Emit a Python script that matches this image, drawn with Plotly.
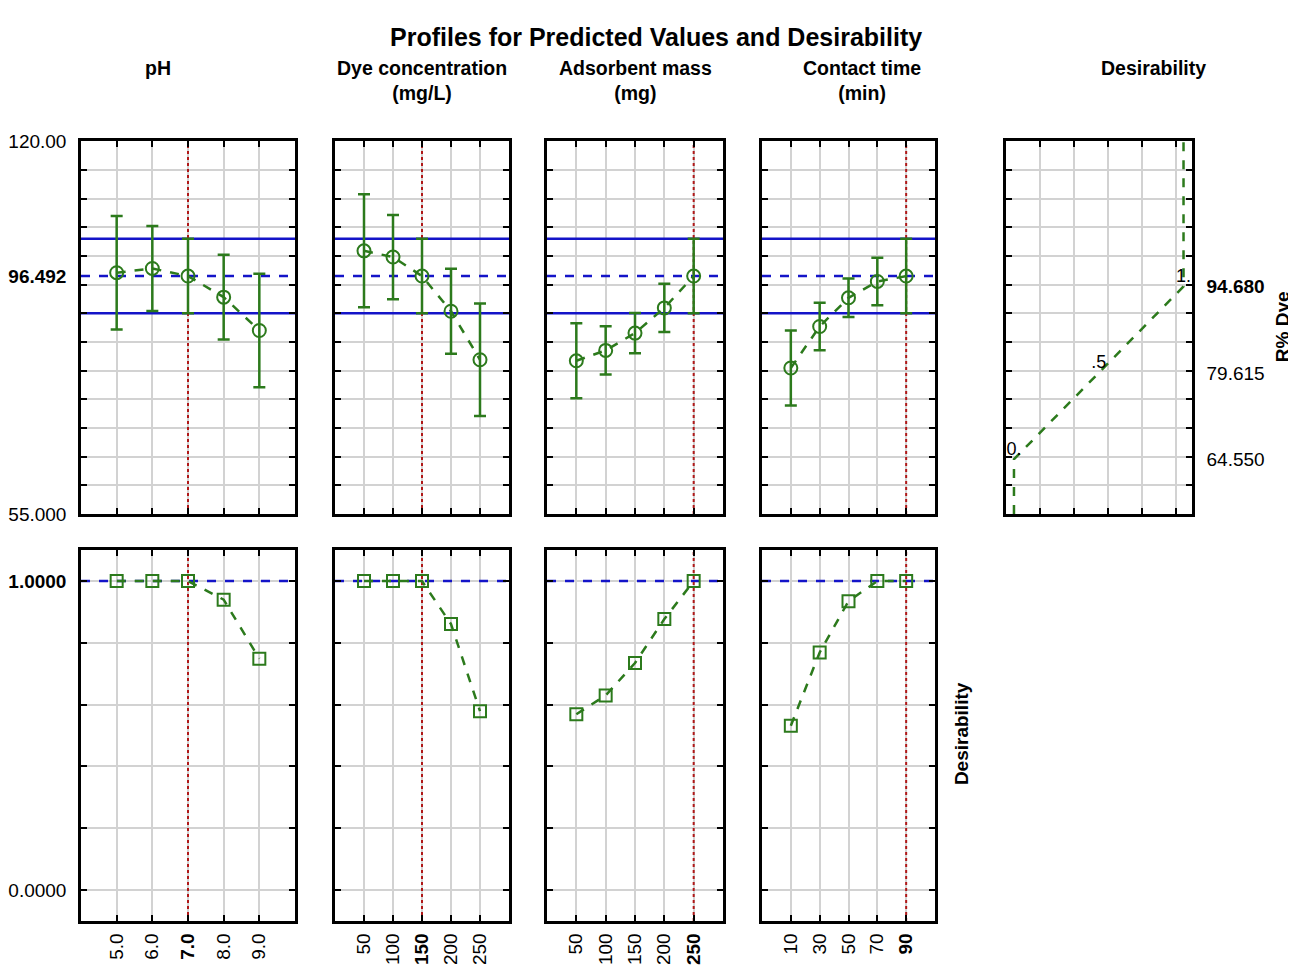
import plotly.graph_objects as go

# ---------------- data ----------------
ph_levels = [5, 6, 7, 8, 9]
ph_labels = ["5.0", "6.0", "<b>7.0</b>", "8.0", "9.0"]
ph_pred = [97.08, 97.82, 96.492, 92.82, 87.00]
ph_err = [9.9, 7.4, 6.5, 7.4, 9.9]
ph_desir = [1.0, 1.0, 1.0, 0.940, 0.749]
ph_current = 7

dye_levels = [50, 100, 150, 200, 250]
dye_labels = ["50", "100", "<b>150</b>", "200", "250"]
dye_pred = [100.89, 99.81, 96.492, 90.36, 81.90]
dye_err = [9.85, 7.35, 6.5, 7.4, 9.8]
dye_desir = [1.0, 1.0, 1.0, 0.861, 0.579]
dye_current = 150

mass_levels = [50, 100, 150, 200, 250]
mass_labels = ["50", "100", "150", "200", "<b>250</b>"]
mass_pred = [81.72, 83.53, 86.55, 90.94, 96.492]
mass_err = [6.55, 4.2, 3.5, 4.2, 6.5]
mass_desir = [0.569, 0.630, 0.735, 0.877, 1.0]
mass_current = 250

time_levels = [10, 30, 50, 70, 90]
time_labels = ["10", "30", "50", "70", "<b>90</b>"]
time_pred = [80.46, 87.70, 92.70, 95.55, 96.492]
time_err = [6.55, 4.15, 3.35, 4.15, 6.5]
time_desir = [0.532, 0.769, 0.935, 1.0, 1.0]
time_current = 90

current_pred = 96.492
ci_upper = 102.99
ci_lower = 89.99
current_desir = 1.0

# desirability function for R% Dye
desir_resp = [55.0, 64.55, 79.615, 94.68, 120.0]
desir_value = [0.0, 0.0, 0.5, 1.0, 1.0]
desir_label_resp = [64.55, 79.615, 94.68]
desir_label_value = [0.0, 0.5, 1.0]
desir_label_text = ["0.", ".5", "1."]
desir_axis_vals = [64.55, 79.615, 94.68]
desir_axis_text = ["64.550", "79.615", "<b>94.680</b>"]

titles = ["pH", "Dye concentration<br>(mg/L)", "Adsorbent mass<br>(mg)", "Contact time<br>(min)", "Desirability"]

# ---------------- style ----------------
OFF = 8                      # page body margin shifts the figure
W, H = 1296, 968
GREEN = "#2c7a1c"
BLUE = "#1414c8"
RED = "#b01818"
GRID = "#d2d2d2"
FONT = "Liberation Sans, Arial, sans-serif"
TOP_RANGE = [55, 120]
BOT_RANGE = [-0.1, 1.1]
DES_RANGE = [-0.047, 1.05]


def px(x):
    return (x - OFF) / W


def py(y):
    return 1 - (y - OFF) / H


panels = [
    dict(levels=ph_levels, labels=ph_labels, pred=ph_pred, err=ph_err, desir=ph_desir,
         current=ph_current, rng=[4, 10], xdom=[81, 295], head_x=158),
    dict(levels=dye_levels, labels=dye_labels, pred=dye_pred, err=dye_err, desir=dye_desir,
         current=dye_current, rng=[0, 300], xdom=[335, 509], head_x=422),
    dict(levels=mass_levels, labels=mass_labels, pred=mass_pred, err=mass_err, desir=mass_desir,
         current=mass_current, rng=[0, 300], xdom=[547, 723], head_x=635),
    dict(levels=time_levels, labels=time_labels, pred=time_pred, err=time_err, desir=time_desir,
         current=time_current, rng=[-10, 110], xdom=[762, 935], head_x=862),
]
top_ydom = [py(515), py(134)]
bot_ydom = [py(931), py(552)]
des_xdom = [1006, 1192]

fig = go.Figure()
layout = dict(
    width=W, height=H, margin=dict(l=0, r=0, t=0, b=0),
    paper_bgcolor="white", plot_bgcolor="white", showlegend=False,
    font=dict(family=FONT, size=19, color="black"),
)
shapes = []
annotations = []


def frame_axis(**kw):
    d = dict(showline=True, linewidth=2.5, linecolor="black", mirror="ticks",
             zeroline=False, ticks="inside", ticklen=6, tickwidth=2, tickcolor="black",
             showgrid=True, gridcolor=GRID, gridwidth=2, fixedrange=True)
    d.update(kw)
    return d


def key(prefix, n):
    return prefix if n == 1 else f"{prefix}{n}"


for i, p in enumerate(panels):
    nt = i + 1
    nb = i + 6
    # top: predicted values
    fig.add_trace(go.Scatter(
        x=p["levels"], y=p["pred"], xaxis=key("x", nt), yaxis=key("y", nt),
        mode="lines+markers",
        line=dict(color=GREEN, width=2.5, dash="dash"),
        marker=dict(symbol="circle-open", size=13, color=GREEN, line=dict(width=2, color=GREEN)),
        error_y=dict(type="data", array=p["err"], color=GREEN, thickness=2.5, width=6),
    ))
    # bottom: desirability
    fig.add_trace(go.Scatter(
        x=p["levels"], y=p["desir"], xaxis=key("x", nb), yaxis=key("y", nb),
        mode="lines+markers",
        line=dict(color=GREEN, width=2.5, dash="dash"),
        marker=dict(symbol="square-open", size=12, color=GREEN, line=dict(width=2, color=GREEN)),
    ))
    xd = [px(p["xdom"][0]), px(p["xdom"][1])]
    layout[key("xaxis", nt)] = frame_axis(domain=xd, anchor=key("y", nt), range=p["rng"],
                                          tickvals=p["levels"], showticklabels=False)
    layout[key("yaxis", nt)] = frame_axis(
        domain=top_ydom, anchor=key("x", nt), range=TOP_RANGE,
        tickvals=[55, current_pred, 120], ticktext=["55.000", f"<b>{current_pred:.3f}</b>", "120.00"],
        showticklabels=(i == 0), ticks="", showgrid=False, ticklabelstandoff=8,
        minor=dict(tickvals=list(range(60, 120, 5)), ticks="inside", ticklen=6, tickwidth=2,
                   tickcolor="black", showgrid=True, gridcolor=GRID, gridwidth=2),
    )
    layout[key("xaxis", nb)] = frame_axis(domain=xd, anchor=key("y", nb), range=p["rng"],
                                          tickvals=p["levels"], ticktext=p["labels"],
                                          tickangle=-90, ticklabelstandoff=2,
                                          tickfont=dict(size=19))
    layout[key("yaxis", nb)] = frame_axis(
        domain=bot_ydom, anchor=key("x", nb), range=BOT_RANGE,
        tickvals=[0, 0.2, 0.4, 0.6, 0.8, 1.0],
        ticktext=["0.0000", "", "", "", "", "<b>1.0000</b>"],
        showticklabels=(i == 0), ticklabelstandoff=8,
    )
    # reference lines
    for yv, dash in [(ci_upper, "solid"), (ci_lower, "solid"), (current_pred, "dash")]:
        shapes.append(dict(type="line", xref=key("x", nt), x0=p["rng"][0], x1=p["rng"][1],
                           yref=key("y", nt), y0=yv, y1=yv, layer="between",
                           line=dict(color=BLUE, width=2.5, dash=dash)))
    shapes.append(dict(type="line", xref=key("x", nb), x0=p["rng"][0], x1=p["rng"][1],
                       yref=key("y", nb), y0=current_desir, y1=current_desir, layer="between",
                       line=dict(color=BLUE, width=2.5, dash="dash")))
    for n, yr in ((nt, TOP_RANGE), (nb, BOT_RANGE)):
        shapes.append(dict(type="line", xref=key("x", n), x0=p["current"], x1=p["current"],
                           yref=key("y", n), y0=yr[0], y1=yr[1], layer="between",
                           line=dict(color=RED, width=2, dash="dot")))
    annotations.append(dict(text=f"<b>{titles[i]}</b>", xref="paper", yref="paper",
                            x=px(p["head_x"]), y=py(46), xanchor="center", yanchor="top",
                            showarrow=False, font=dict(size=19.5)))

# desirability function panel (x5 / y5)
fig.add_trace(go.Scatter(
    x=desir_value, y=desir_resp, xaxis="x5", yaxis="y5", mode="lines",
    line=dict(color=GREEN, width=2.5, dash="dash"),
))
fig.add_trace(go.Scatter(
    x=desir_label_value, y=desir_label_resp, xaxis="x5", yaxis="y5", mode="text",
    text=desir_label_text, textposition="top center", textfont=dict(size=18, color="black"),
))
layout["xaxis5"] = frame_axis(domain=[px(des_xdom[0]), px(des_xdom[1])], anchor="y5",
                              range=DES_RANGE, tickvals=[0.155, 0.355, 0.555, 0.755, 0.955],
                              showticklabels=False)
layout["yaxis5"] = frame_axis(
    domain=top_ydom, anchor="x5", range=TOP_RANGE, side="right",
    tickvals=desir_axis_vals, ticktext=desir_axis_text, ticks="", showgrid=False,
    ticklabelstandoff=8,
    minor=dict(tickvals=list(range(60, 120, 5)), ticks="inside", ticklen=6, tickwidth=2,
               tickcolor="black", showgrid=True, gridcolor=GRID, gridwidth=2),
)

annotations.append(dict(text=f"<b>{titles[4]}</b>", xref="paper", yref="paper",
                        x=px(1153), y=py(46), xanchor="center", yanchor="top",
                        showarrow=False, font=dict(size=19.5)))
annotations.append(dict(text="<b>Profiles for Predicted Values and Desirability</b>",
                        xref="paper", yref="paper", x=px(656), y=py(27),
                        xanchor="center", yanchor="middle", showarrow=False, font=dict(size=25)))
annotations.append(dict(text="<b>R% Dye</b>", xref="paper", yref="paper", x=px(1282), y=py(324),
                        xanchor="center", yanchor="middle", textangle=-90, showarrow=False,
                        font=dict(size=19)))
annotations.append(dict(text="<b>Desirability</b>", xref="paper", yref="paper", x=px(961), y=py(740),
                        xanchor="center", yanchor="middle", textangle=-90, showarrow=False,
                        font=dict(size=19)))

layout["shapes"] = shapes
layout["annotations"] = annotations
fig.update_layout(**layout)
fig.write_html("out.html")
